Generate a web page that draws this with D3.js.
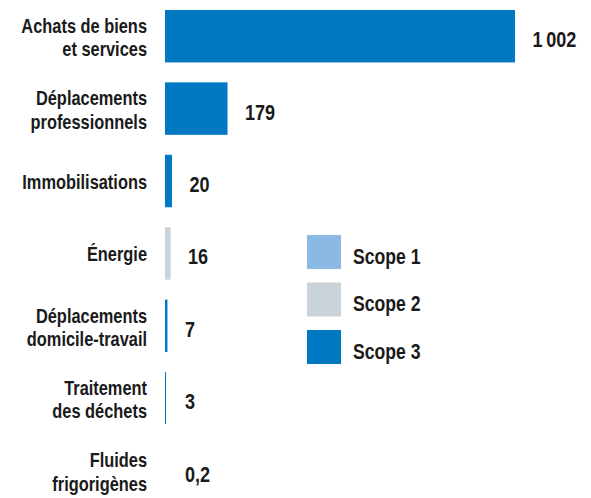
<!DOCTYPE html>
<html><head><meta charset="utf-8">
<script src="https://cdn.jsdelivr.net/npm/d3@7"></script>
<style>
body{margin:0;background:#fff;}
svg{display:block;}
text{font-family:"Liberation Sans",Arial,sans-serif;font-weight:bold;fill:#1a1a1a;}
</style></head>
<body>
<svg id="chart" width="591" height="498"></svg>
<script>
const categories = [
  ["Achats de biens","et services"],
  ["Déplacements","professionnels"],
  ["Immobilisations"],
  ["Énergie"],
  ["Déplacements","domicile-travail"],
  ["Traitement","des déchets"],
  ["Fluides","frigorigènes"]
];
const values = [1002, 179, 20, 16, 7, 3, 0.2];
const scopes = ["Scope 3","Scope 3","Scope 3","Scope 2","Scope 3","Scope 3","Scope 1"];
const legendLabels = ["Scope 1","Scope 2","Scope 3"];
const legendColors = ["#8cb8e4","#cbd3da","#0079c2"];

const svg = d3.select("#chart");
const fr = d3.formatLocale({decimal:",", thousands:"\u202f", grouping:[3], currency:["","€"]});
const fmt = fr.format(",~g");
const SX = 0.82; // condensed look

const x0 = 165;
const x = d3.scaleLinear().domain([0, 1002]).range([0, 350]);
const idx = d3.range(values.length);
const y = d3.scaleBand().domain(idx).range([0, 506.8]).paddingInner(0.275).paddingOuter(0.1375);
const color = d3.scaleOrdinal().domain(legendLabels).range(legendColors);

const g = svg.append("g");
g.selectAll("rect.bar").data(idx).join("rect")
  .attr("class","bar")
  .attr("x", x0)
  .attr("y", i => y(i))
  .attr("width", i => Math.max(x(values[i]), values[i] >= 1 ? 1 : 0))
  .attr("height", y.bandwidth())
  .attr("shape-rendering", i => values[i] < 5 ? "crispEdges" : null)
  .attr("fill", i => color(scopes[i]));

// category labels
const lab = g.selectAll("text.cat").data(idx).join("text")
  .attr("class","cat")
  .attr("text-anchor","end")
  .style("font-size","20px")
  .attr("transform", i => {
    const c = y(i) + y.bandwidth()/2;
    const yy = categories[i].length > 1 ? c - 3.3 : c + 8;
    return `translate(147,${yy}) scale(${SX},1)`;
  });
lab.selectAll("tspan").data(i => categories[i]).join("tspan")
  .attr("x", 0)
  .attr("dy", (d, j) => j === 0 ? 0 : 23.4)
  .text(d => d);

// values
g.selectAll("text.val").data(idx).join("text")
  .attr("class","val")
  .style("font-size","22px")
  .attr("transform", i => `translate(${Math.max(x0 + x(values[i]) + 17.5, 185)},${y(i) + y.bandwidth()/2 + 11}) scale(${SX},1)`)
  .text(i => fmt(values[i]));

// legend
const lg = svg.append("g").attr("transform","translate(307,235)");
const li = lg.selectAll("g").data(legendLabels).join("g")
  .attr("transform", (d, i) => `translate(0,${i*47.5})`);
li.append("rect").attr("width",34).attr("height",34).attr("fill", d => color(d));
li.append("text").attr("transform",`translate(46,28.5) scale(${SX},1)`).style("font-size","21.5px").text(d => d);
</script>
</body></html>
